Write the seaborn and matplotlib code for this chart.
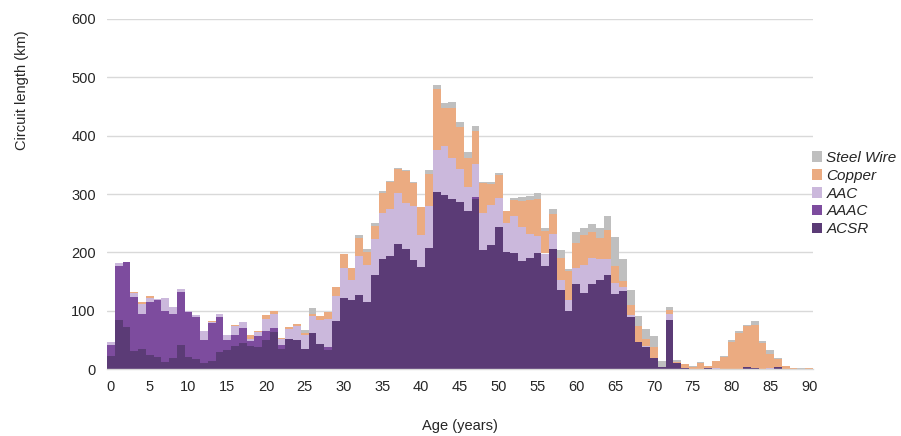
import numpy as np
import pandas as pd
import matplotlib
matplotlib.use("Agg")
import matplotlib.pyplot as plt
from matplotlib.patches import Patch
import seaborn as sns

ages = list(range(0, 91))

acsr = [22, 84, 72, 31, 34, 24, 21, 12, 19, 41, 21, 17, 11, 14, 30, 32, 39, 45, 39, 37,
        50, 64, 34, 51, 50, 34, 62, 43, 33, 82, 121, 119, 127, 115, 161, 189, 193, 214, 206, 187,
        175, 207, 304, 298, 291, 286, 270, 292, 204, 213, 243, 201, 199, 186, 191, 199, 177, 205, 135, 100,
        145, 131, 145, 153, 162, 129, 134, 90, 46, 38, 19, 4, 84, 11, 1, 0, 0, 2, 0, 0,
        0, 0, 3, 2, 0, 0, 3, 0, 0, 0, 0]
aaac = [20, 92, 111, 92, 61, 91, 97, 88, 76, 91, 77, 73, 38, 65, 59, 17, 19, 26, 9, 19,
        15, 7, 7, 0, 0, 0, 0, 0, 4, 0, 0, 0, 0, 0, 0, 0, 0, 0, 0, 0,
        0, 0, 0, 0, 0, 0, 0, 2, 0, 0, 0, 0, 0, 0, 0, 0, 0, 0, 0, 0,
        0, 0, 0, 0, 0, 0, 0, 0, 0, 0, 0, 0, 0, 0, 0, 0, 0, 0, 0, 0,
        0, 0, 0, 0, 0, 0, 0, 0, 0, 0, 0]
aac = [4, 5, 1, 8, 17, 7, 2, 21, 11, 5, 1, 2, 16, 2, 5, 10, 15, 9, 3, 8,
       20, 23, 10, 17, 23, 25, 29, 41, 49, 43, 53, 33, 67, 63, 62, 79, 81, 88, 78, 92,
       55, 72, 71, 85, 70, 57, 42, 58, 63, 68, 50, 50, 63, 57, 40, 29, 21, 26, 18, 19,
       29, 47, 46, 35, 26, 18, 6, 3, 1, 1, 0, 0, 10, 0, 0, 0, 0, 0, 1, 0,
       0, 0, 0, 0, 0, 1, 0, 0, 0, 0, 0]
copper = [0, 1, 0, 1, 2, 3, 0, 0, 1, 1, 1, 0, 0, 1, 1, 0, 2, 1, 7, 1,
          8, 6, 3, 4, 4, 3, 4, 7, 11, 15, 24, 21, 31, 23, 22, 34, 46, 41, 56, 40,
          47, 55, 105, 64, 86, 71, 50, 56, 51, 36, 39, 20, 28, 45, 58, 64, 38, 34, 38, 49,
          42, 51, 44, 36, 50, 29, 11, 16, 26, 12, 19, 0, 8, 1, 7, 3, 11, 3, 12, 20,
          47, 62, 70, 74, 45, 25, 15, 5, 2, 0, 2]
steel = [0, 0, 0, 0, 0, 0, 0, 0, 0, 0, 0, 0, 0, 0, 0, 0, 0, 0, 0, 0,
         0, 0, 0, 0, 0, 5, 9, 0, 0, 0, 0, 0, 4, 5, 5, 3, 2, 2, 1, 1,
         1, 7, 6, 9, 11, 10, 10, 9, 3, 4, 4, 0, 3, 6, 8, 10, 6, 10, 13, 4,
         19, 13, 14, 17, 24, 51, 38, 27, 17, 18, 18, 9, 4, 4, 1, 2, 1, 0, 1, 2,
         3, 3, 2, 6, 3, 6, 1, 0, 0, 1, 0]

types = ["Steel Wire", "Copper", "AAC", "AAAC", "ACSR"]
series = {"ACSR": acsr, "AAAC": aaac, "AAC": aac, "Copper": copper, "Steel Wire": steel}
colors = {"Steel Wire": "#bfbfbf", "Copper": "#ebab81", "AAC": "#cbb8dc",
          "AAAC": "#7d4c9e", "ACSR": "#5b3b76"}

rows = []
for t in types:
    for a, v in zip(ages, series[t]):
        rows.append({"age": a, "type": t, "length": v})
df = pd.DataFrame(rows)

sns.set_style("white")
plt.rcParams["font.family"] = ["Liberation Sans", "DejaVu Sans"]

fig = plt.figure(figsize=(9.01, 4.36), dpi=100)
ax = fig.add_axes([107 / 901, 67 / 436, (813 - 107) / 901, 350 / 436])

ax.set_axisbelow(True)
ax.yaxis.grid(True, color="#d9d9d9", linewidth=1.0)
ax.xaxis.grid(False)

sns.histplot(data=df, x="age", weights="length", hue="type", hue_order=types,
             multiple="stack", discrete=True, shrink=1.0, palette=colors,
             element="bars", alpha=1, linewidth=0, edgecolor="none",
             antialiased=False, legend=False, ax=ax)

ax.set_xlim(-0.5, 90.5)
ax.set_ylim(0, 600)
ax.set_xticks(range(0, 91, 5))
ax.set_yticks(range(0, 601, 100))
ax.tick_params(axis="both", length=0, labelsize=10.5, colors="#262626", pad=8)
for s in ["top", "right", "left"]:
    ax.spines[s].set_visible(False)
ax.spines["bottom"].set_color("#d9d9d9")
ax.spines["bottom"].set_linewidth(1.0)

ax.set_xlabel("Age (years)", fontsize=10.5, color="#262626", labelpad=18)
ax.set_ylabel("Circuit length (km)", fontsize=10.5, color="#262626")
ax.yaxis.set_label_coords(-0.111, 0.797)

handles = [Patch(facecolor=colors[t], edgecolor="none") for t in types]
fig.legend(handles, types, loc="center left", bbox_to_anchor=(0.901, 0.556),
           frameon=False, handlelength=0.7, handleheight=0.7, handletextpad=0.25,
           labelspacing=0.25, borderpad=0, borderaxespad=0,
           prop={"size": 11, "style": "italic", "family": "Liberation Sans"})

fig.savefig("out.png", dpi=100, facecolor="white")
